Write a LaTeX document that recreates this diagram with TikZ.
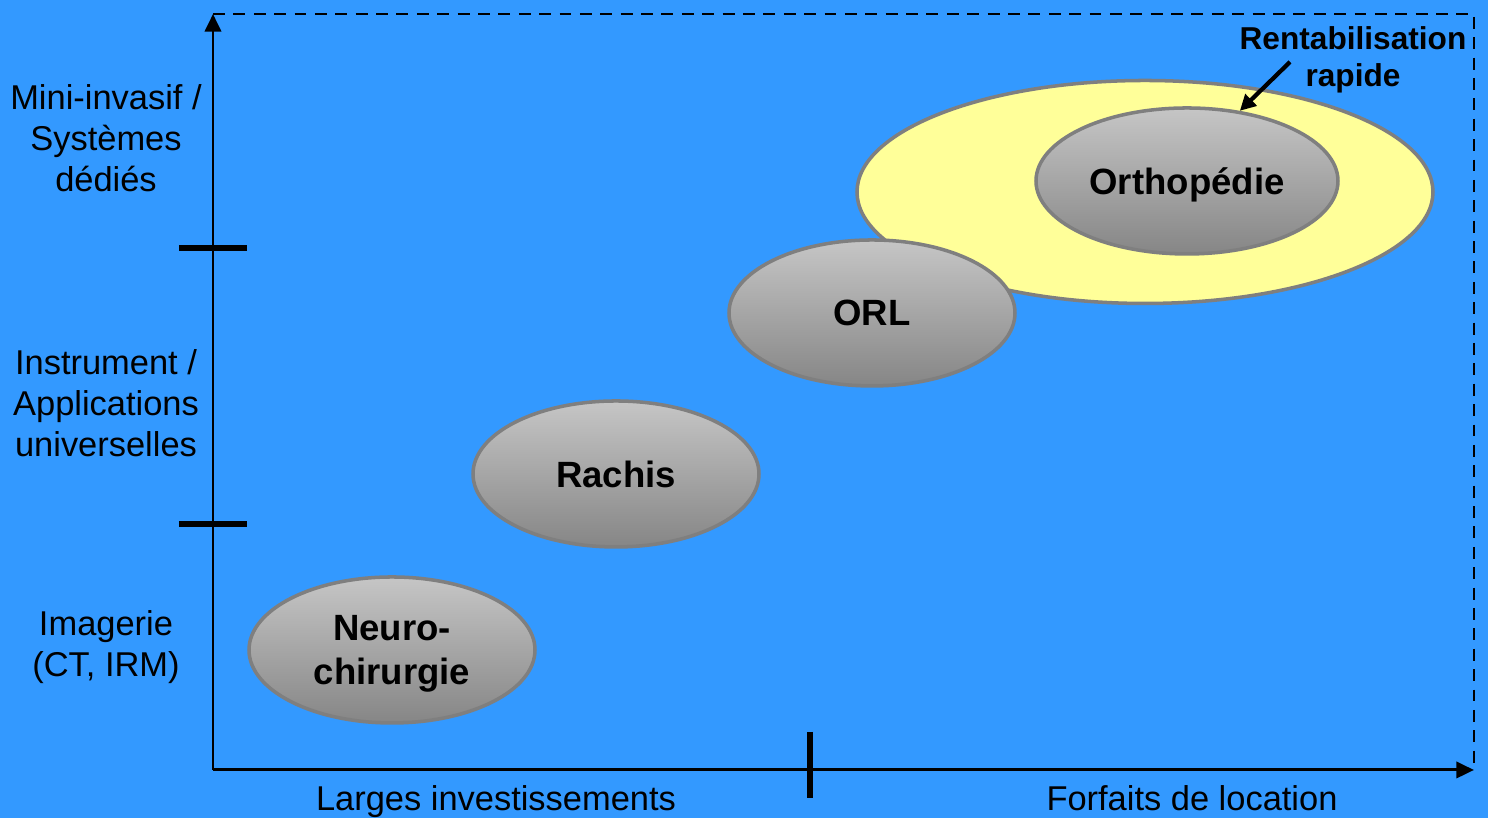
\documentclass[tikz,border=0pt]{standalone}
\usepackage{fontspec}
\setmainfont{Liberation Sans}
\usetikzlibrary{shapes.geometric,arrows.meta}
\definecolor{bleu}{HTML}{3399FF}
\definecolor{jaune}{HTML}{FFFF99}
\definecolor{bord}{HTML}{7F7F7F}
\tikzset{
 bulle/.style={ellipse,draw=bord,line width=1pt,top color=gray!45,bottom color=gray!95,
  minimum width=2.86cm,minimum height=1.46cm,inner sep=0pt,align=center,text depth=0pt,
  font=\fontsize{10.4}{12.5}\selectfont\bfseries},
 etiq/.style={align=center,font=\fontsize{9.8}{11.7}\selectfont},
 cran/.style={line width=1.5pt}
}
\begin{document}
\begin{tikzpicture}
 \useasboundingbox (0,0) rectangle (14.88,8.18);
 \fill[bleu] (0,0) rectangle (14.88,8.18); %背景
 \coordinate (O) at (2.13,0.48); %原点O
 \coordinate (YL) at (2.13,8.04); %y軸最大
 \coordinate (XL) at (14.74,0.48); %x軸最大
 \coordinate (C) at (14.74,8.04); %右上
 \draw[line width=0.7pt,dash pattern=on 3.4pt off 2.4pt] (YL)--(C)--(XL); %枠
 \draw[line width=0.85pt,-{Triangle[length=5pt,width=4.6pt]}] (O)--(YL); %y軸
 \draw[line width=0.85pt,-{Triangle[length=5pt,width=4.6pt]}] (O)--(XL); %x軸

 \draw[cran] (1.79,5.70)--(2.47,5.70); %目盛り
 \draw[cran] (1.79,2.94)--(2.47,2.94);
 \draw[cran] (8.10,0.86)--(8.10,0.20);

 \node[etiq] (mini) at (1.06,6.80) {Mini-invasif /\\Systèmes\\dédiés};
 \node[etiq] (instr) at (1.06,4.15) {Instrument /\\Applications\\universelles};
 \node[etiq] (imag) at (1.06,1.71) {Imagerie\\(CT, IRM)};
 \node[etiq,anchor=base] (larges) at (4.96,0.07) {Larges investissements};
 \node[etiq,anchor=base] (forfaits) at (11.92,0.07) {Forfaits de location};

 \node[ellipse,draw=bord,line width=1pt,fill=jaune,minimum width=5.76cm,minimum height=2.23cm] (zone) at (11.45,6.26) {};
 \node[bulle] (neuro) at (3.92,1.68) {Neuro-\\chirurgie};
 \node[bulle] (rachis) at (6.16,3.44) {Rachis};
 \node[bulle] (orl) at (8.72,5.05) {ORL};
 \node[bulle,minimum width=3.02cm] (ortho) at (11.87,6.37) {Orthopédie};

 \node[align=center,font=\fontsize{9}{10.5}\selectfont\bfseries] (renta) at (13.53,7.58) {Rentabilisation\\rapide};
 \coordinate (fleche) at (12.90,7.56);
 \draw[line width=1.2pt,-{Triangle[length=4.5pt,width=4.5pt]}] (fleche)--(ortho.53);
\end{tikzpicture}
\end{document}
